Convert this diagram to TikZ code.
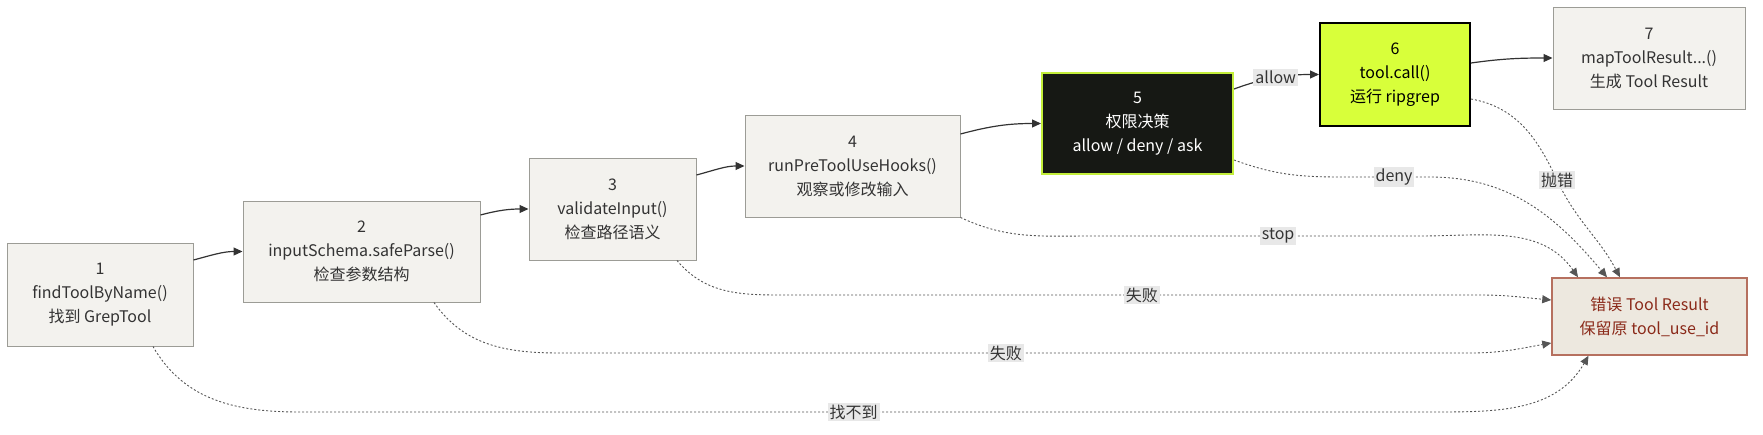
\documentclass[tikz,border=0pt]{standalone}
\usepackage{fontspec}
\setmainfont{Noto Sans CJK SC}
\usetikzlibrary{arrows.meta}
\definecolor{boxfill}{HTML}{F3F2EE}
\definecolor{boxline}{HTML}{9C9C96}
\definecolor{txt}{HTML}{333333}
\definecolor{dotline}{HTML}{555555}
\definecolor{lblfill}{HTML}{E8E8E8}
\definecolor{darkfill}{HTML}{161814}
\definecolor{lime}{HTML}{D8FF3A}
\definecolor{limeline}{HTML}{C3EE3A}
\definecolor{errfill}{HTML}{EDE8DF}
\definecolor{errline}{HTML}{B6705F}
\definecolor{errtxt}{HTML}{8B2A1A}
\begin{document}
\begin{tikzpicture}[x=1pt,y=-1pt,
  box/.style={draw=boxline, line width=1pt, fill=boxfill, text=txt, align=center, inner sep=0pt, font=\fontsize{16}{24}\selectfont},
  flow/.style={draw=txt, line width=1.2pt, -{Triangle[length=9pt,width=8pt]}},
  fail/.style={draw=dotline, line width=0.9pt, dash pattern=on 2pt off 2pt, -{Triangle[length=9pt,width=8pt]}},
  lbl/.style={fill=lblfill, text=txt, inner sep=2pt, font=\fontsize{16}{20}\selectfont}]
\useasboundingbox (0,0) rectangle (1763,434);
\node[box, minimum width=186pt, minimum height=103pt] (s1) at (100,294.5){1\\findToolByName()\\找到 GrepTool};
\node[box, minimum width=237pt, minimum height=101pt] (s2) at (361.5,251.5){2\\inputSchema.safeParse()\\检查参数结构};
\node[box, minimum width=167pt, minimum height=102pt] (s3) at (612.5,209){3\\validateInput()\\检查路径语义};
\node[box, minimum width=215pt, minimum height=102pt] (s4) at (852.5,166){4\\runPreToolUseHooks()\\观察或修改输入};
\node[box, minimum width=191pt, minimum height=101pt, fill=darkfill, draw=limeline, line width=2pt, text=white] (s5) at (1137.5,123.5){5\\权限决策\\allow / deny / ask};
\node[box, minimum width=150pt, minimum height=103pt, fill=lime, draw=black, line width=2pt, text=black] (s6) at (1395,74.5){6\\tool.call()\\运行 ripgrep};
\node[box, minimum width=192pt, minimum height=102pt] (s7) at (1649,58){7\\mapToolResult...()\\生成 Tool Result};
\node[box, minimum width=195pt, minimum height=77pt, fill=errfill, draw=errline, line width=1.5pt, text=errtxt] (err) at (1649.5,316.5){错误 Tool Result\\保留原 tool\_use\_id};
% main path
\draw[flow] ([yshift=34.5pt]s1.east) to[out=15,in=180] (s2.west);
\draw[flow] ([yshift=36.5pt]s2.east) to[out=15,in=180] (s3.west);
\draw[flow] ([yshift=34pt]s3.east) to[out=15,in=180] (s4.west);
\draw[flow] ([yshift=32pt]s4.east) to[out=15,in=180] (s5.west);
\draw[flow] ([yshift=34.5pt]s5.east) to[out=20,in=180] node[lbl,pos=.5]{allow} (s6.west);
\draw[flow] ([yshift=11.5pt]s6.east) to[out=8,in=180] (s7.west);
% error paths
\draw[fail] ([xshift=53pt]s1.south) to[out=-60,in=180] (300,412) -- node[lbl,pos=.49]{找不到} (1430,412) to[out=0,in=-120] ([xshift=-61pt]err.south);
\draw[fail] ([xshift=72.5pt]s2.south) to[out=-55,in=180] (560,353) -- node[lbl,pos=.49]{失败} (1470,353) to[out=0,in=190] ([yshift=-26.5pt]err.west);
\draw[fail] ([xshift=64.5pt]s3.south) to[out=-50,in=180] (790,295) -- node[lbl,pos=.51]{失败} (1480,295) to[out=0,in=175] ([yshift=16.5pt]err.west);
\draw[fail] (s4.south east) to[out=-25,in=180] (1090,236) -- node[lbl,pos=.57]{stop} (1420,236) to[out=0,in=125] ([xshift=-71.5pt]err.north);
\draw[fail] ([yshift=-36.5pt]s5.east) to[out=-20,in=180] (1340,177) -- node[lbl,pos=.6]{deny} (1430,177) to[out=0,in=130] ([xshift=-42.5pt]err.north);
\draw[fail] ([yshift=-24.5pt]s6.east) to[out=-10,in=115] node[lbl,pos=1]{抛错} (1557,180) to[out=-65,in=118] ([xshift=-29.5pt]err.north);
\end{tikzpicture}
\end{document}
